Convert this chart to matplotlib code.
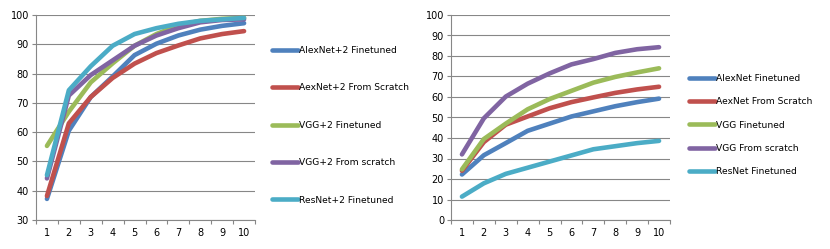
import matplotlib
matplotlib.use("Agg")
import matplotlib.pyplot as plt
import numpy as np

plt.rcParams['font.family'] = ['DejaVu Sans']

epochs = list(range(1, 11))

# left chart: +2 layer models
left_labels = ['AlexNet+2 Finetuned', 'AexNet+2 From Scratch', 'VGG+2 Finetuned',
               'VGG+2 From scratch', 'ResNet+2 Finetuned']
alex2_ft = [37.2, 60.5, 72, 79, 86.3, 90.2, 93, 95, 96.3, 97.2]
alex2_sc = [38.2, 63, 72, 78.5, 83.4, 87, 89.6, 92, 93.5, 94.5]
vgg2_ft = [55.3, 67, 77, 83.5, 89.5, 93.5, 96.5, 98, 98.7, 99]
vgg2_sc = [44.2, 72.5, 79.5, 84.5, 89.5, 93, 95.5, 97.5, 98.3, 98.5]
res2_ft = [45.3, 74.3, 82.5, 89.5, 93.5, 95.5, 97, 98, 98.5, 99]

# right chart: base models
right_labels = ['AlexNet Finetuned', 'AexNet From Scratch', 'VGG Finetuned',
                'VGG From scratch', 'ResNet Finetuned']
alex_ft = [22.2, 31.6, 37.5, 43.5, 47, 50.5, 53, 55.5, 57.5, 59.2]
alex_sc = [24, 38, 46.5, 50.5, 54.5, 57.5, 59.8, 62, 63.7, 65]
vgg_ft = [24.7, 39.5, 47, 54, 59, 63, 67, 69.8, 72, 74]
vgg_sc = [32, 49.6, 60.2, 66.5, 71.5, 75.9, 78.5, 81.5, 83.3, 84.3]
res_ft = [11.4, 17.9, 22.5, 25.5, 28.5, 31.5, 34.5, 36, 37.5, 38.6]

colors = ['#4F81BD', '#C0504D', '#9BBB59', '#8064A2', '#4BACC6']
grid_col = '#878787'


def style_axes(ax, ymin, ymax):
    ax.set_xlim(0.5, 10.5)
    ax.set_ylim(ymin, ymax)
    ax.set_yticks(np.arange(ymin, ymax + 1, 10))
    ax.set_xticks(epochs)
    ax.set_xticks(np.arange(0.5, 11, 1), minor=True)
    ax.tick_params(axis='x', which='major', length=0, labelsize=7, pad=6)
    ax.tick_params(axis='x', which='minor', length=3, color=grid_col, width=0.8)
    ax.tick_params(axis='y', length=3, color=grid_col, width=0.8, labelsize=7, pad=2)
    ax.grid(axis='y', color=grid_col, linewidth=0.8)
    ax.set_axisbelow(True)
    for s in ['top', 'right']:
        ax.spines[s].set_visible(False)
    for s in ['left', 'bottom']:
        ax.spines[s].set_color(grid_col)
        ax.spines[s].set_linewidth(0.8)


fig = plt.figure(figsize=(8.3, 2.49), dpi=100)
ax1 = fig.add_axes([36 / 830, 29 / 249, 219 / 830, 205 / 249])
ax2 = fig.add_axes([451 / 830, 29 / 249, 219 / 830, 205 / 249])

for series, lab, c in zip([alex2_ft, alex2_sc, vgg2_ft, vgg2_sc, res2_ft], left_labels, colors):
    ax1.plot(epochs, series, color=c, linewidth=3.3, solid_capstyle='round', label=lab)
style_axes(ax1, 30, 100)

for series, lab, c in zip([alex_ft, alex_sc, vgg_ft, vgg_sc, res_ft], right_labels, colors):
    ax2.plot(epochs, series, color=c, linewidth=3.3, solid_capstyle='round', label=lab)
style_axes(ax2, 0, 100)

fig.legend(*ax1.get_legend_handles_labels(), loc='upper left',
           bbox_to_anchor=(272 / 830, 1 - 46 / 249), frameon=False, fontsize=6.6,
           handlelength=2.8, handletextpad=0.15, labelspacing=3.1, borderpad=0,
           borderaxespad=0)
fig.legend(*ax2.get_legend_handles_labels(), loc='upper left',
           bbox_to_anchor=(689 / 830, 1 - 74 / 249), frameon=False, fontsize=6.6,
           handlelength=2.8, handletextpad=0.15, labelspacing=1.56, borderpad=0,
           borderaxespad=0)

fig.savefig('out.png', dpi=100)
